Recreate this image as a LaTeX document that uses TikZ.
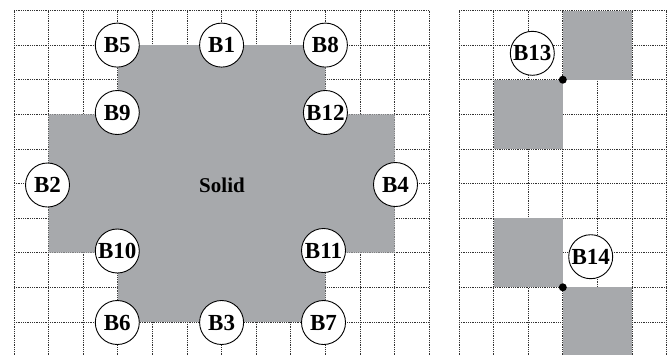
\documentclass[tikz,border=0pt]{standalone}
\usepackage{fontspec}
\setmainfont{Liberation Serif}
\definecolor{solidgray}{RGB}{167,169,172}
\definecolor{gridc}{RGB}{50,50,50}
\begin{document}
\begin{tikzpicture}[x=1pt,y=-1pt,
  gridline/.style={gridc, densely dotted, line width=0.8pt},
  bnode/.style={circle, draw=black, line width=0.9pt, fill=white, minimum size=44pt, inner sep=0pt, font=\fontsize{23}{23}\selectfont\bfseries},
  dotnode/.style={circle, fill=black, inner sep=0pt, minimum size=8pt},
  solidfill/.style={fill=solidgray, draw=none}]
\useasboundingbox (0,0) rectangle (669,354);
\clip (0,0) rectangle (669,354);
\def\s{34.6}
% left grid
\foreach \i in {0,...,12} \draw[gridline] ({14+\i*\s},10.5) -- ({14+\i*\s},360);
\foreach \j in {0,...,9} \draw[gridline] (14,{10.5+\j*\s}) -- (429.2,{10.5+\j*\s});
% right grid
\foreach \i in {0,...,6} \draw[gridline] ({459+\i*\s},10.5) -- ({459+\i*\s},360);
\foreach \j in {0,...,9} \draw[gridline] (459,{10.5+\j*\s}) -- (666.6,{10.5+\j*\s});
% solid shape
\fill[solidgray] (117.8,45.1) -- (325.4,45.1) -- (325.4,114.3) -- (394.6,114.3) -- (394.6,252.7)
  -- (325.4,252.7) -- (325.4,321.9) -- (117.8,321.9) -- (117.8,252.7) -- (48.6,252.7)
  -- (48.6,114.3) -- (117.8,114.3) -- cycle;
% right squares
\fill[solidgray] (562.8,10.5) rectangle (632,79.7);
\fill[solidgray] (493.6,79.7) rectangle (562.8,148.9);
\fill[solidgray] (493.6,218.1) rectangle (562.8,287.3);
\fill[solidgray] (562.8,287.3) rectangle (632,360);
% label
\node[font=\fontsize{21}{21}\selectfont\bfseries] (solid) at (222,185) {Solid};
% boundary nodes
\node[bnode] (B5) at (117.3,45.1) {B5};
\node[bnode] (B1) at (221.6,45.1) {B1};
\node[bnode] (B8) at (325.4,45.1) {B8};
\node[bnode] (B9) at (117.3,112.5) {B9};
\node[bnode] (B12) at (325.4,112.5) {B12};
\node[bnode] (B2) at (47.5,185) {B2};
\node[bnode] (B4) at (395.5,184.5) {B4};
\node[bnode] (B10) at (117.3,251) {B10};
\node[bnode] (B11) at (323.5,250.5) {B11};
\node[bnode] (B6) at (117.3,322.5) {B6};
\node[bnode] (B3) at (221.6,322.5) {B3};
\node[bnode] (B7) at (323.5,322.5) {B7};
\node[bnode] (B13) at (532.3,53.3) {B13};
\node[bnode] (B14) at (590.7,256.7) {B14};
% corner dots
\node[dotnode] (d1) at (562.8,79.7) {};
\node[dotnode] (d2) at (562.8,287.3) {};
\end{tikzpicture}
\end{document}
